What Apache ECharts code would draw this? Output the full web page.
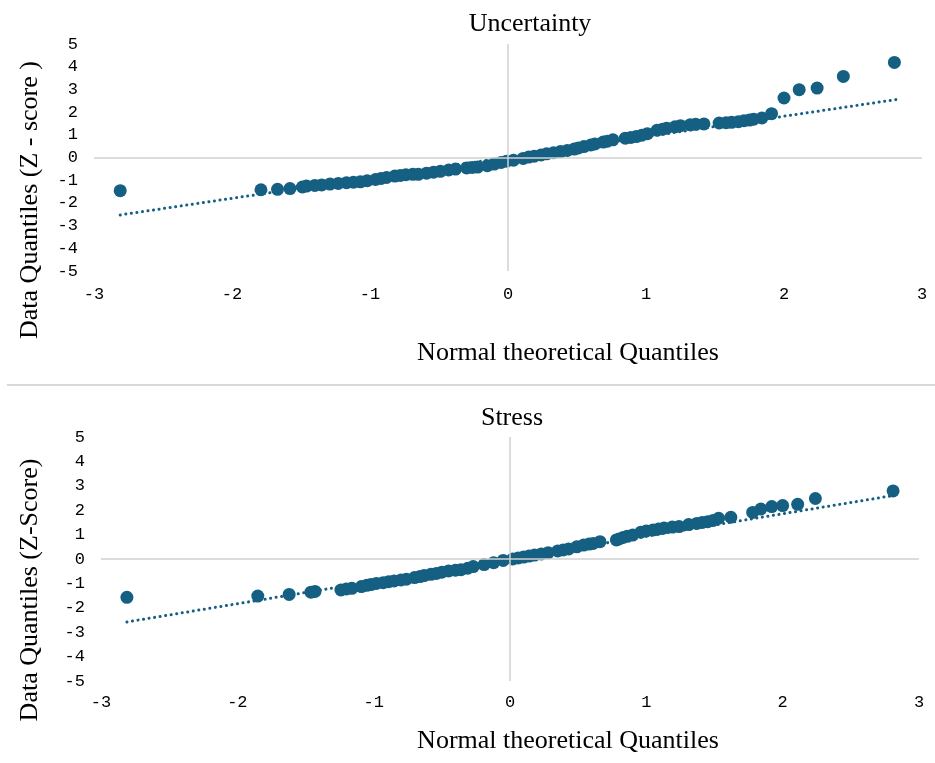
<!DOCTYPE html>
<html lang="en">
<head>
    <meta charset="utf-8"/>
    <title>Q-Q plots</title>
    <script src="https://cdn.jsdelivr.net/npm/echarts@6/dist/echarts.min.js"></script>
    <style>
        html, body { margin: 0; padding: 0; background: #fff; }
        #main { width: 935px; height: 763px; }
    </style>
</head>
<body>
<div id="main"></div>
<script>
    // Uncertainty: normal theoretical quantiles / data quantiles (z-score)
    var uncX = [-2.81, -1.79, -1.67, -1.58, -1.49, -1.46, -1.40, -1.35, -1.29, -1.23, -1.17, -1.12, -1.07, -1.02,
        -0.96, -0.92, -0.88, -0.82, -0.78, -0.74, -0.69, -0.65, -0.59, -0.54, -0.49, -0.43, -0.38, -0.30, -0.26,
        -0.22, -0.15, -0.10, -0.05, -0.01, 0.04, 0.11, 0.15, 0.19, 0.24, 0.28, 0.33, 0.38, 0.43, 0.48, 0.51, 0.55,
        0.60, 0.63, 0.69, 0.72, 0.76, 0.85, 0.89, 0.93, 0.97, 1.01, 1.08, 1.12, 1.15, 1.21, 1.25, 1.32, 1.36, 1.42,
        1.53, 1.58, 1.62, 1.67, 1.71, 1.75, 1.78, 1.84, 1.91, 2.00, 2.11, 2.24, 2.43, 2.80];
    var uncY = [-1.46, -1.42, -1.40, -1.37, -1.30, -1.26, -1.23, -1.21, -1.17, -1.14, -1.11, -1.09, -1.07, -1.02,
        -0.97, -0.92, -0.88, -0.82, -0.79, -0.76, -0.74, -0.74, -0.69, -0.65, -0.61, -0.55, -0.51, -0.46, -0.44,
        -0.42, -0.36, -0.29, -0.22, -0.16, -0.12, -0.04, 0.02, 0.06, 0.11, 0.16, 0.21, 0.26, 0.31, 0.37, 0.42, 0.48,
        0.55, 0.60, 0.68, 0.72, 0.78, 0.85, 0.88, 0.92, 0.98, 1.05, 1.20, 1.25, 1.29, 1.35, 1.40, 1.44, 1.46, 1.48,
        1.52, 1.53, 1.55, 1.58, 1.62, 1.65, 1.69, 1.74, 1.93, 2.62, 2.99, 3.06, 3.57, 4.19];

    // Stress
    var strX = [-2.81, -1.85, -1.62, -1.46, -1.43, -1.24, -1.20, -1.16, -1.09, -1.05, -1.02, -0.98, -0.93, -0.89,
        -0.85, -0.80, -0.76, -0.70, -0.66, -0.63, -0.58, -0.54, -0.50, -0.45, -0.40, -0.36, -0.31, -0.27, -0.19,
        -0.12, -0.05, 0.02, 0.06, 0.10, 0.14, 0.18, 0.23, 0.28, 0.35, 0.39, 0.43, 0.49, 0.54, 0.58, 0.61, 0.66,
        0.78, 0.80, 0.83, 0.86, 0.90, 0.96, 1.00, 1.05, 1.09, 1.13, 1.19, 1.24, 1.31, 1.37, 1.41, 1.45, 1.49, 1.53,
        1.62, 1.78, 1.84, 1.92, 2.00, 2.11, 2.24, 2.81];
    var strY = [-1.57, -1.52, -1.45, -1.36, -1.33, -1.27, -1.23, -1.20, -1.13, -1.08, -1.05, -1.00, -0.97, -0.93,
        -0.90, -0.86, -0.83, -0.76, -0.72, -0.68, -0.63, -0.59, -0.54, -0.49, -0.46, -0.44, -0.38, -0.31, -0.23,
        -0.15, -0.06, 0.00, 0.04, 0.08, 0.12, 0.16, 0.21, 0.26, 0.33, 0.37, 0.41, 0.50, 0.57, 0.61, 0.64, 0.71,
        0.78, 0.82, 0.88, 0.93, 0.98, 1.10, 1.15, 1.19, 1.23, 1.27, 1.31, 1.33, 1.41, 1.46, 1.50, 1.53, 1.58, 1.67,
        1.71, 1.91, 2.05, 2.15, 2.19, 2.24, 2.48, 2.79];

    // linear trendlines (end points)
    var trendX = [-2.81, 2.81];
    var uncTrendY = [-2.53, 2.55];
    var strTrendY = [-2.58, 2.60];

    var titles = ['Uncertainty', 'Stress'];
    var yNames = ['Data Quantiles (Z - score )', 'Data Quantiles (Z-Score)'];
    var xName = 'Normal theoretical Quantiles';

    var blue = '#156082';
    var serif = '"Liberation Serif", "Times New Roman", serif';
    var mono = 'Liberation Mono';

    function pairs(xs, ys) {
        return xs.map(function (x, i) { return [x, ys[i]]; });
    }

    function xAxisFor(gi, margin) {
        return {
            gridIndex: gi, type: 'value', min: -3, max: 3, interval: 1,
            axisLine: {show: false}, axisTick: {show: false}, splitLine: {show: false},
            axisLabel: {color: '#000', fontFamily: mono, fontSize: 17, margin: margin}
        };
    }

    function yAxisFor(gi) {
        return {
            gridIndex: gi, type: 'value', min: -5, max: 5, interval: 1,
            axisLine: {show: false}, axisTick: {show: false}, splitLine: {show: false},
            axisLabel: {color: '#000', fontFamily: mono, fontSize: 17, margin: 16}
        };
    }

    var zeroLines = {
        silent: true, symbol: 'none', label: {show: false},
        lineStyle: {color: '#d0d0d0', width: 1.5, type: 'solid'},
        data: [{xAxis: 0}, {yAxis: 0}]
    };

    function scatterFor(gi, xs, ys) {
        return {
            type: 'scatter', xAxisIndex: gi, yAxisIndex: gi, z: 3,
            symbolSize: 13, itemStyle: {color: blue, opacity: 1},
            data: pairs(xs, ys), markLine: zeroLines
        };
    }

    function trendFor(gi, ys) {
        return {
            type: 'line', xAxisIndex: gi, yAxisIndex: gi, z: 2,
            showSymbol: false, symbol: 'none',
            lineStyle: {color: blue, width: 3, type: [0.1, 5.5], cap: 'round'},
            data: pairs(trendX, ys)
        };
    }

    function label(text, x, y, rot) {
        return {
            type: 'text', x: x, y: y, rotation: rot || 0,
            style: {text: text, font: '26px ' + serif, fill: '#000', align: 'center', verticalAlign: 'middle'}
        };
    }

    var chart = echarts.init(document.getElementById('main'));
    var option = {
        animation: false,
        backgroundColor: '#fff',
        grid: [
            {left: 94, top: 44, width: 828, height: 227},
            {left: 101, top: 437, width: 818, height: 244}
        ],
        xAxis: [xAxisFor(0, 15), xAxisFor(1, 13)],
        yAxis: [yAxisFor(0), yAxisFor(1)],
        series: [
            trendFor(0, uncTrendY),
            scatterFor(0, uncX, uncY),
            trendFor(1, strTrendY),
            scatterFor(1, strX, strY)
        ],
        graphic: [
            label(titles[0], 530, 24),
            label(titles[1], 512, 418),
            label(xName, 568, 353),
            label(xName, 568, 741),
            label(yNames[0], 30, 200, Math.PI / 2),
            label(yNames[1], 30, 590, Math.PI / 2),
            {
                type: 'line', shape: {x1: 7, y1: 385, x2: 935, y2: 385},
                style: {stroke: '#d9d9d9', lineWidth: 2}
            }
        ]
    };
    chart.setOption(option);
</script>
</body>
</html>
